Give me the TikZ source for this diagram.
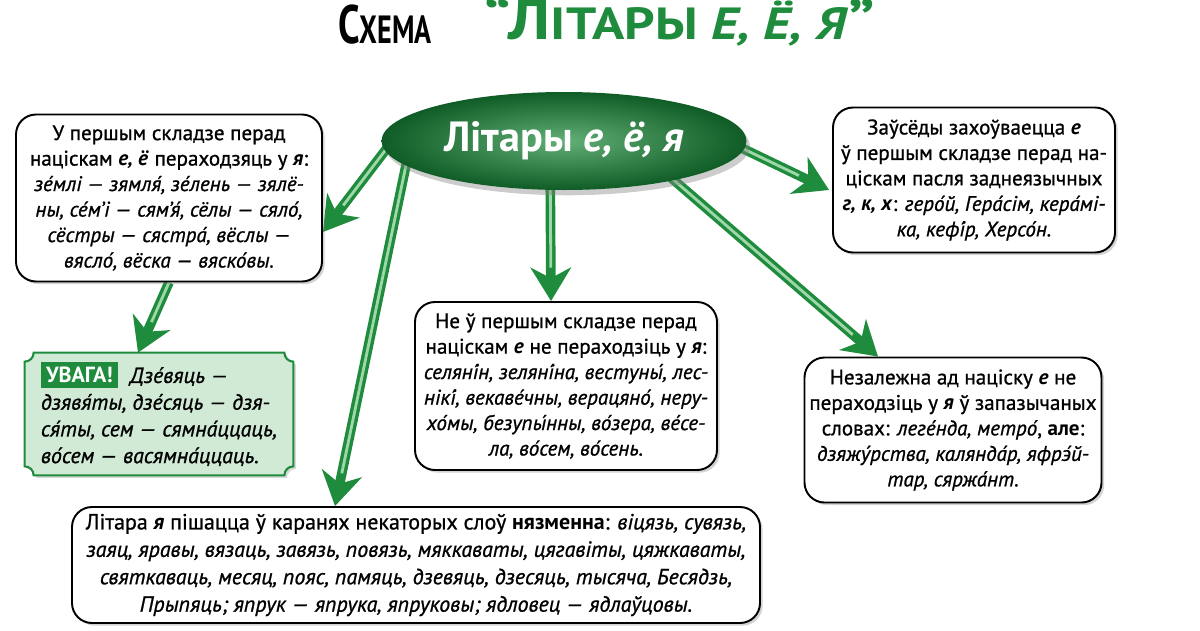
\documentclass[tikz,border=0pt]{standalone}
\usepackage{fontspec}
\setmainfont{PT Sans}[UprightFeatures={FakeBold=0.9}, ItalicFeatures={FakeBold=0.9}]
\usetikzlibrary{arrows.meta,shapes.geometric,shadows,backgrounds}

\definecolor{leafgreen}{RGB}{30,140,60}
\definecolor{deepgreen}{RGB}{16,92,38}
\definecolor{palegreen}{RGB}{208,234,214}
\definecolor{tubegreen}{RGB}{160,215,170}

\newcommand{\lit}[1]{\textbf{\textit{#1}}}

\begin{document}
\begin{tikzpicture}

% \draw[help lines, color=gray!30] (0,0) grid (24,12.6);
\useasboundingbox (0,0) rectangle (24,12.6);

\tikzstyle{note}=[draw=black, line width=1.1pt, fill=white, rounded corners=0.4cm, align=center, inner sep=0pt, font=\fontsize{12}{14.5}\selectfont, drop shadow={opacity=0.35, shadow xshift=1.5pt, shadow yshift=-1.5pt}]
\tikzstyle{shaft}=[draw=leafgreen, line width=5.5pt, -{Stealth[length=19pt,width=23pt,inset=6pt]}, postaction={draw=tubegreen, line width=1.6pt, shorten >=19pt, -}]

% title
\node[font=\fontsize{22}{24}\selectfont\bfseries] (s) at (7.7,12.1) {\scalebox{1}[1.4]{С{\fontsize{16}{18}\selectfont ХЕМА}}};
\node[font=\fontsize{24}{26}\selectfont\bfseries, text=leafgreen] (l) at (13.6,12.2) {\scalebox{1.6}[1.35]{“Л{\fontsize{19}{20}\selectfont ІТАРЫ \textit{Е, Ё, Я}}”}};

% centre
\node[ellipse, minimum width=7.3cm, minimum height=1.96cm, inner color=leafgreen!70!white, outer color=deepgreen, text=white, font=\fontsize{24}{28}\selectfont\bfseries, drop shadow={opacity=0.4, shadow xshift=2pt, shadow yshift=-3pt}] (c) at (11.28,9.78) {Літары \textit{е, ё, я}};

% boxes
\node[note, minimum width=6.12cm, minimum height=3.34cm] (a) at (3.38,8.64) {У першым складзе перад\\ націскам \lit{е, ё} пераходзяць у \lit{я}:\\ \textit{зе́млі — зямля́, зе́лень — зялё-}\\ \textit{ны, се́м’і — сям’я́, сёлы — сяло́,}\\ \textit{сёстры — сястра́, вёслы —}\\ \textit{вясло́, вёска — вяско́вы.}};

\node[align=left, inner sep=0pt, minimum width=5.36cm, minimum height=2.44cm, font=\fontsize{12.5}{15.2}\selectfont] (u) at (3.18,4.32) {\colorbox{leafgreen}{\bfseries\color{white}УВАГА!}\ \ \textit{Дзе́вяць —}\\ \textit{дзявя́ты, дзе́сяць — дзя-}\\ \textit{ся́ты, сем — сямна́ццаць,}\\ \textit{во́сем — васямна́ццаць.}};

\node[note, minimum width=6.04cm, minimum height=3.36cm] (b) at (11.32,4.88) {Не ў першым складзе перад\\ націскам \lit{е} не пераходзіць у \lit{я}:\\ \textit{селяні́н, зеляні́на, вестуны́, лес-}\\ \textit{нікі́, векаве́чны, верацяно́, неру-}\\ \textit{хо́мы, безупы́нны, во́зера, ве́се-}\\ \textit{ла, во́сем, во́сень.}};

\node[note, minimum width=5.64cm, minimum height=2.9cm] (d) at (19.48,9.0) {Заўсёды захоўваецца \lit{е}\\ ў першым складзе перад на-\\ ціскам пасля заднеязычных\\ \lit{г, к, х}: \textit{геро́й, Гера́сім, кера́мі-}\\ \textit{ка, кефі́р, Херсо́н.}};

\node[note, minimum width=5.94cm, minimum height=2.9cm] (r) at (19.06,4.0) {Незалежна ад націску \lit{е} не\\ пераходзіць у \lit{я} ў запазычаных\\ словах: \textit{леге́нда, метро́}, \textbf{але}:\\ \textit{дзяжу́рства, калянда́р, яфрэ́й-}\\ \textit{тар, сяржа́нт}.};

\node[note, minimum width=13.76cm, minimum height=2.32cm, font=\fontsize{12.5}{15.6}\selectfont] (k) at (8.32,1.3) {Літара \lit{я} пішацца ў каранях некаторых слоў \textbf{нязменна}: \textit{віцязь, сувязь,}\\ \textit{заяц, яравы, вязаць, завязь, повязь, мяккаваты, цягавіты, цяжкаваты,}\\ \textit{святкаваць, месяц, пояс, памяць, дзевяць, дзесяць, тысяча, Бесядзь,}\\ \textit{Прыпяць; япрук — япрука, япруковы; ядловец — ядлаўцовы.}};

\begin{scope}[on background layer]
% frame of uvaga
\draw[draw=leafgreen, line width=1.2pt, fill=palegreen, drop shadow={opacity=0.3, shadow xshift=1.5pt, shadow yshift=-1.5pt}] ([xshift=0.18cm]u.north west) -- ([xshift=-0.18cm]u.north east) arc[start angle=180, end angle=270, radius=0.18cm] -- ([yshift=0.18cm]u.south east) arc[start angle=90, end angle=180, radius=0.18cm] -- ([xshift=0.18cm]u.south west) arc[start angle=0, end angle=90, radius=0.18cm] -- ([yshift=-0.18cm]u.north west) arc[start angle=270, end angle=360, radius=0.18cm] -- cycle;

% arrows
\draw[shaft] ([xshift=0.37cm,yshift=0.19cm]c.west) -- ([yshift=-0.68cm]a.east);
\draw[shaft] (a.south) -- ([xshift=-0.42cm]u.north);
\draw[shaft] ([xshift=0.65cm,yshift=0.25cm]c.west) -- ([xshift=-1.62cm]k.north);
\draw[shaft] ([xshift=-0.28cm]c.center) -- ([xshift=-0.3cm]b.north);
\draw[shaft] ([xshift=-0.5cm,yshift=0.05cm]c.east) -- ([xshift=-0.06cm,yshift=-0.2cm]d.west);
\draw[shaft] ([xshift=2.02cm,yshift=-0.63cm]c.center) -- ([xshift=-1.5cm]r.north);
\end{scope}

\end{tikzpicture}
\end{document}
